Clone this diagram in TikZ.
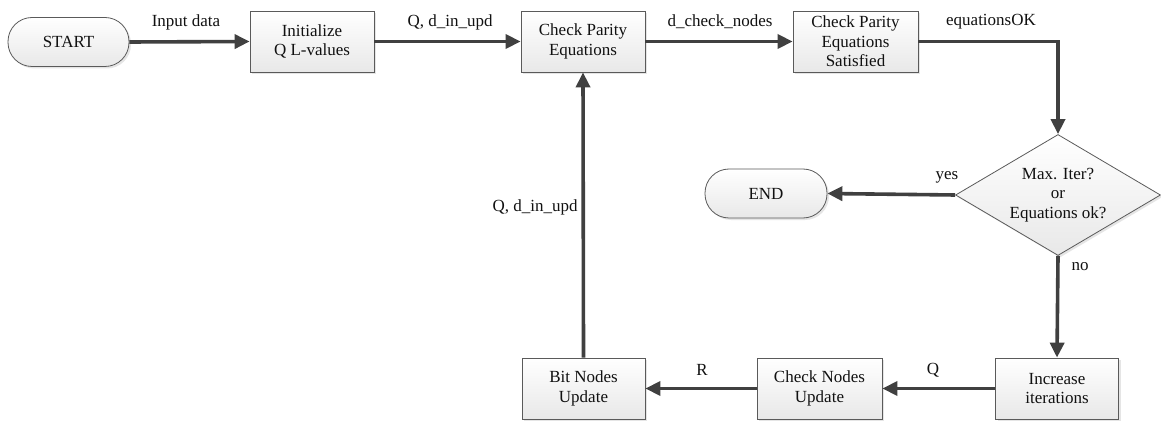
\documentclass[tikz,border=0pt]{standalone}
\usepackage{fontspec}
\setmainfont{Liberation Serif}
\usetikzlibrary{arrows.meta,shapes.geometric,shadows}
\definecolor{linec}{HTML}{404040}
\definecolor{borderc}{HTML}{5A5A5A}
\definecolor{txtc}{HTML}{111111}
\begin{document}
\begin{tikzpicture}[x=1pt,y=-1pt,
  txt/.style={font=\fontsize{17}{19.5}\selectfont, text=txtc},
  shapebase/.style={txt, draw=borderc, line width=0.8pt, top color=white, bottom color=black!9,
     drop shadow={shadow xshift=2pt, shadow yshift=-2pt, opacity=0.25, fill=black!40},
     align=center, inner sep=0pt},
  procbox/.style={shapebase, rectangle, minimum width=124pt, minimum height=61pt},
  termbox/.style={shapebase, rectangle, rounded corners=24pt, minimum width=122pt, minimum height=49pt},
  decbox/.style={shapebase, diamond, aspect=1.7, minimum width=205pt, minimum height=121pt},
  flow/.style={draw=linec, line width=3.6pt, -{Triangle[length=15pt,width=14pt]}},
  lbl/.style={txt, inner sep=0pt}]
\useasboundingbox (0,0) rectangle (1161,422);
\fill[white] (0,0) rectangle (1161,422);

\node[termbox, minimum width=121pt] (start) at (68.5,42) {START};
\node[procbox] (init) at (312,41.5) {Initialize\\Q L-values};
\node[procbox] (cpe) at (583,41.5) {Check Parity\\Equations};
\node[procbox, minimum width=125pt] (cpes) at (855.5,41.5) {Check Parity\\Equations\\Satisfied};
\node[decbox] (dec) at (1058,195) {Max. Iter?\\or\\Equations ok?};
\node[termbox] (end) at (766,193.5) {END};
\node[procbox, minimum width=123pt] (inc) at (1057,388.5) {Increase\\iterations};
\node[procbox, minimum width=125pt] (cnu) at (819.5,388.5) {Check Nodes\\Update};
\node[procbox, minimum width=123pt] (bnu) at (583.5,388.5) {Bit Nodes\\Update};

\draw[flow] (start.east) -- (init.west);
\draw[flow] (init.east) -- (cpe.west);
\draw[flow] (cpe.east) -- (cpes.west);
\draw[flow] (cpes.east) -| (dec.north);
\draw[flow] (dec.west) -- (end.east);
\draw[flow] (dec.south) -- (inc.north);
\draw[flow] (inc.west) -- (cnu.east);
\draw[flow] (cnu.west) -- (bnu.east);
\draw[flow] (bnu.north) -- (cpe.south);

\node[lbl] (l1) at (186,22) {Input data};
\node[lbl] (l2) at (450,22) {Q, d\_in\_upd};
\node[lbl] (l3) at (720,22) {d\_check\_nodes};
\node[lbl] (l4) at (991,22) {equationsOK};
\node[lbl] (l5) at (947,177) {yes};
\node[lbl] (l6) at (1080,267) {no};
\node[lbl] (l7) at (535,207) {Q, d\_in\_upd};
\node[lbl] (l8) at (702,370) {R};
\node[lbl] (l9) at (933,370) {Q};
\end{tikzpicture}
\end{document}
